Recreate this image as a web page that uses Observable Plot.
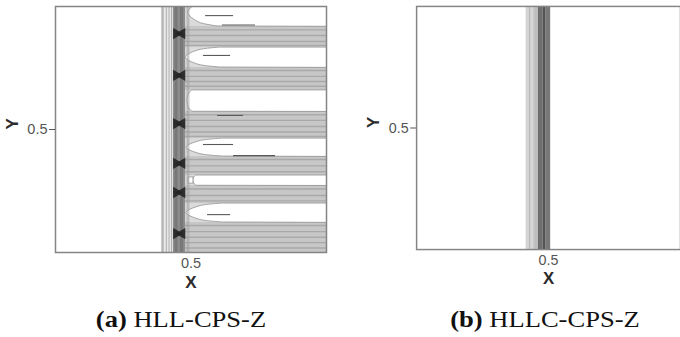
<!DOCTYPE html>
<html>
<head>
<meta charset="utf-8">
<script src="https://cdn.jsdelivr.net/npm/d3@7"></script>
<script src="https://cdn.jsdelivr.net/npm/@observablehq/plot@0.6"></script>
<style>
  html, body { margin: 0; padding: 0; background: #fff; width: 680px; height: 337px; overflow: hidden; }
  .panel { position: absolute; top: 0; }
  #a { left: 0; }
  #b { left: 340px; }
  .cap { position: absolute; top: 307px; width: 300px; text-align: center;
         font-family: "Liberation Serif", "Times New Roman", serif; font-size: 22.5px; line-height: 26px;
         color: #111; white-space: nowrap; transform: scaleX(1.18); transform-origin: center; }
  .cap b { font-weight: bold; }
</style>
</head>
<body>
<div id="a" class="panel"></div>
<div id="b" class="panel"></div>
<div class="cap" style="left:31px"><b>(a)</b> HLL-CPS-Z</div>
<div class="cap" style="left:395px"><b>(b)</b> HLLC-CPS-Z</div>
<script>
// ---------- shared axis data ----------
const tickX = [0.5];
const tickY = [0.5];

// ---------- panel (a): HLL-CPS-Z ----------
// vertical contour bands at the front (x extent, contour level 0 = white, 1 = black)
const aBandX0 = [0.391, 0.402, 0.435, 0.441, 0.461];
const aBandX1 = [0.402, 0.435, 0.480, 0.452, 0.473];
const aBandLevel = [0.20, 0.09, 0.45, 0.53, 0.53];
// thin vertical contour lines ahead of and behind the front
const aLineX = [0.396, 0.409, 0.419, 0.428, 0.486, 0.492];
// dark carbuncle spots along the front
const aBlobY = [0.890, 0.720, 0.524, 0.362, 0.244, 0.077];
const aBlobX = [0.446, 0.467];
const aBlobLevel = 0.86;
// wake region behind the front
const aWakeX = [0.480, 1.0];
const aWakeLevel = 0.14;
// gray horizontal bands in the wake
const aGrayY0 = [0.833, 0.659, 0.463, 0.313, 0.199, 0.000];
const aGrayY1 = [0.919, 0.752, 0.573, 0.390, 0.272, 0.122];
const aGrayLevel = [0.22, 0.22, 0.22, 0.22, 0.22, 0.22];
// darker contour stripes inside the gray bands
const aStripeY = [0.905, 0.882, 0.858, 0.842,
                  0.740, 0.716, 0.695, 0.676,
                  0.560, 0.537, 0.512, 0.490, 0.472,
                  0.378, 0.352, 0.328,
                  0.258, 0.232, 0.210,
                  0.110, 0.085, 0.062, 0.040, 0.018];
// white tongues (y extent, x of nose tip, x where the outline flattens)
const aTongueY0 = [0.919, 0.752, 0.573, 0.390, 0.272, 0.122];
const aTongueY1 = [1.030, 0.833, 0.659, 0.463, 0.313, 0.199];
const aTongueTip = [0.490, 0.480, 0.487, 0.483, 0.509, 0.483];
const aTongueShoulder = [0.600, 0.610, 0.505, 0.620, 0.520, 0.620];
// small closed contour near the front
const aBoxX = [0.491, 0.509];
const aBoxY = [0.280, 0.305];
// dark contour lines inside the tongues
const aDarkY  = [0.963, 0.925, 0.801, 0.557, 0.439, 0.394, 0.154];
const aDarkX1 = [0.554, 0.616, 0.546, 0.598, 0.546, 0.657, 0.561];
const aDarkX2 = [0.657, 0.738, 0.646, 0.694, 0.657, 0.812, 0.646];

// ---------- panel (b): HLLC-CPS-Z ----------
const bBandX0 = [0.415, 0.442, 0.461, 0.479, 0.491];
const bBandX1 = [0.442, 0.461, 0.479, 0.491, 0.508];
const bBandLevel = [0.17, 0.22, 0.57, 0.67, 0.53];
const bLineX = [0.428, 0.452];

// ---------- helpers ----------
const tongueFrac = [0, 0.15, 0.5, 0.85, 1];
const tongueProfile = [1, 0.35, 0, 0.35, 1];

function tongueRows() {
  const rows = [];
  aTongueY0.forEach((y0, i) => {
    const y1 = aTongueY1[i];
    tongueFrac.forEach((f, k) => {
      rows.push({id: i, y: y0 + f * (y1 - y0),
                 x1: aTongueTip[i] + tongueProfile[k] * (aTongueShoulder[i] - aTongueTip[i]),
                 x2: 1.02});
    });
  });
  return rows;
}

const FONT = "'Liberation Sans', Arial, Helvetica, sans-serif";

function frameMarks() {
  return [
    Plot.frame({stroke: "#858585", strokeWidth: 1.5}),
    Plot.axisX(tickX, {tickSize: 0, tickPadding: 5, label: null, fontSize: 14.5}),
    Plot.axisY(tickY, {tickSize: 6, tickPadding: 2, label: null, fontSize: 14.5}),
    Plot.text(["X"], {text: d => d, frameAnchor: "bottom", dy: 35, fontWeight: "bold", fontSize: 17, fill: "#2b2b2b"}),
    Plot.text(["Y"], {text: d => d, frameAnchor: "left", dx: -43, rotate: -90, fontWeight: "bold", fontSize: 17, fill: "#2b2b2b"})
  ];
}

function makePlot(width, marginLeft, marginRight, marks) {
  return Plot.plot({
    width, height: 300,
    marginTop: 6, marginBottom: 48, marginLeft, marginRight,
    x: {domain: [0, 1], axis: null},
    y: {domain: [0, 1], axis: null},
    color: {type: "linear", domain: [0, 1], range: ["#ffffff", "#000000"]},
    style: {fontFamily: FONT, fontSize: "14px", color: "#555", background: "transparent", overflow: "visible"},
    marks: [...marks, ...frameMarks()]
  });
}

// ---------- panel (a) marks ----------
const aBands = aBandX0.map((x0, i) => ({x0, x1: aBandX1[i], level: aBandLevel[i]}));
const aGray = aGrayY0.map((y0, i) => ({y0, y1: aGrayY1[i], level: aGrayLevel[i]}));
const aBlobs = aBlobY.flatMap(y => aBlobX.map((x, j) => ({x, y, side: j})));
const aDark = aDarkY.map((y, i) => ({y, x1: aDarkX1[i], x2: aDarkX2[i]}));

const plotA = makePlot(340, 55, 14, [
  Plot.rect([aWakeLevel], {x1: aWakeX[0], x2: aWakeX[1], y1: 0, y2: 1, fill: d => d}),
  Plot.rect(aGray, {x1: aWakeX[0], x2: aWakeX[1], y1: "y0", y2: "y1", fill: "level"}),
  Plot.ruleY(aStripeY, {x1: aWakeX[0], x2: aWakeX[1], stroke: "#a9a9a9", strokeWidth: 1.4}),
  Plot.areaX(tongueRows(), {y: "y", x1: "x1", x2: "x2", z: "id", curve: "catmull-rom",
                            fill: "white", stroke: "#9a9a9a", strokeWidth: 0.9, clip: true}),
  Plot.rect([0], {x1: aBoxX[0], x2: aBoxX[1], y1: aBoxY[0], y2: aBoxY[1], fill: "white", stroke: "#9a9a9a", strokeWidth: 0.8}),
  Plot.ruleY(aDark, {y: "y", x1: "x1", x2: "x2", stroke: "#5a5a5a", strokeWidth: 1.1}),
  Plot.rect(aBands, {x1: "x0", x2: "x1", y1: 0, y2: 1, fill: "level"}),
  Plot.ruleX(aLineX, {y1: 0, y2: 1, stroke: "#a0a0a0", strokeWidth: 0.8}),
  Plot.dot(aBlobs, {x: "x", y: "y", symbol: "triangle", r: 4.2, rotate: d => d.side ? -90 : 90,
                    fill: () => aBlobLevel, stroke: "none", fillOpacity: 0.9})
]);
document.getElementById("a").append(plotA);

// ---------- panel (b) marks ----------
const bBands = bBandX0.map((x0, i) => ({x0, x1: bBandX1[i], level: bBandLevel[i]}));
const plotB = makePlot(344, 77, 0, [
  Plot.rect(bBands, {x1: "x0", x2: "x1", y1: 0, y2: 1, fill: "level"}),
  Plot.ruleX(bLineX, {y1: 0, y2: 1, stroke: "#b0b0b0", strokeWidth: 0.8})
]);
document.getElementById("b").append(plotB);
</script>
</body>
</html>
